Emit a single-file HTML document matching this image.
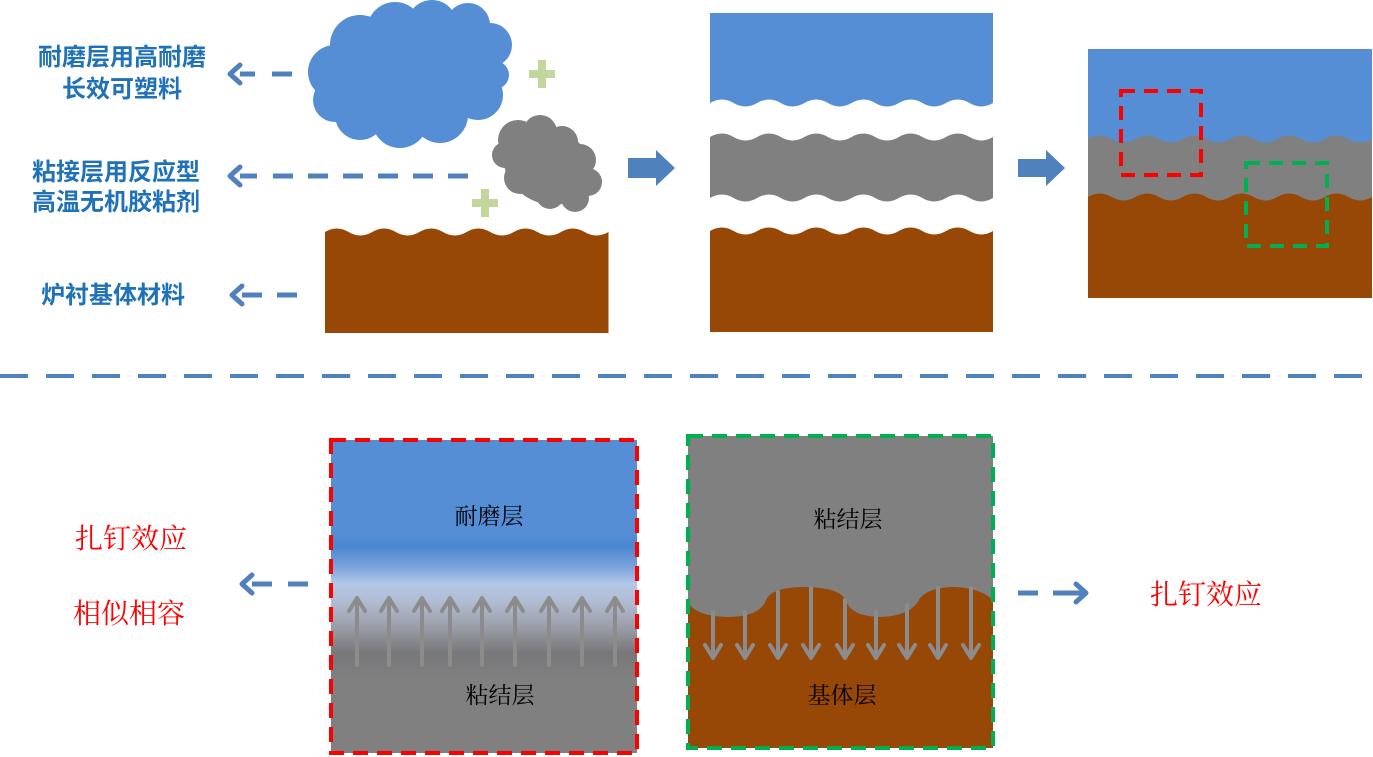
<!DOCTYPE html>
<html><head><meta charset="utf-8"><style>
html,body{margin:0;padding:0;background:#fff}
svg{display:block}
.lb{font-family:"Liberation Sans","Noto Sans CJK SC",sans-serif;font-weight:bold;font-size:24px;fill:#2072B8}
.rd{font-family:"Liberation Serif","Noto Serif CJK SC",serif;font-size:28px;fill:#FF0000}
.bk{font-family:"Liberation Serif","Noto Serif CJK SC",serif;font-size:23px;fill:#000}
</style></head><body>
<svg width="1373" height="757" viewBox="0 0 1373 757" xmlns="http://www.w3.org/2000/svg">
<defs>
<linearGradient id="g1" x1="0" y1="0" x2="0" y2="1">
<stop offset="0" stop-color="#558ED5"/>
<stop offset="0.3" stop-color="#558ED5"/>
<stop offset="0.34" stop-color="#4A86D0"/>
<stop offset="0.41" stop-color="#7FA6DD"/>
<stop offset="0.46" stop-color="#B4C7E7"/>
<stop offset="0.52" stop-color="#B0BBD0"/>
<stop offset="0.6" stop-color="#9A9DA6"/>
<stop offset="0.68" stop-color="#77777A"/>
<stop offset="0.76" stop-color="#808080"/>
<stop offset="1" stop-color="#808080"/>
</linearGradient>
</defs>

<text class="lb" x="122" y="65" text-anchor="middle">耐磨层用高耐磨</text>
<text class="lb" x="122" y="97" text-anchor="middle">长效可塑料</text>
<text class="lb" x="116" y="180" text-anchor="middle">粘接层用反应型</text>
<text class="lb" x="116" y="210" text-anchor="middle">高温无机胶粘剂</text>
<text class="lb" x="113" y="303" text-anchor="middle">炉衬基体材料</text>

<g stroke="#4F81BD" stroke-width="5" fill="none">
<path d="M240 74 H255 M272 74 H292" />
<path d="M240 65 L230 74 L240 83" stroke-linecap="round" stroke-linejoin="round"/>
<path d="M240 176 H257 M273 176 H293 M308 176 H328 M343 176 H363 M378 176 H398 M413 176 H433 M448 176 H468"/>
<path d="M240 167 L230 176 L240 185" stroke-linecap="round" stroke-linejoin="round"/>
<path d="M242 295 H262 M277 295 H297"/>
<path d="M242 286 L232 295 L242 304" stroke-linecap="round" stroke-linejoin="round"/>
</g>

<g fill="#558ED5">
<ellipse cx="405" cy="75" rx="88" ry="48"/>
<circle cx="335" cy="72" r="27"/>
<circle cx="360" cy="45" r="30"/>
<circle cx="395" cy="30" r="28"/>
<circle cx="432" cy="25" r="25"/>
<circle cx="468" cy="25" r="22"/>
<circle cx="490" cy="45" r="22"/>
<circle cx="495" cy="75" r="14"/>
<circle cx="478" cy="95" r="25"/>
<circle cx="440" cy="115" r="28"/>
<circle cx="400" cy="120" r="28"/>
<circle cx="360" cy="115" r="25"/>
<circle cx="335" cy="100" r="22"/>
</g>
<g fill="#808080">
<ellipse cx="547" cy="165" rx="45" ry="38" transform="rotate(30 547 165)"/>
<circle cx="518" cy="140" r="20"/>
<circle cx="540" cy="132" r="17"/>
<circle cx="562" cy="142" r="16"/>
<circle cx="580" cy="160" r="16"/>
<circle cx="588" cy="182" r="14"/>
<circle cx="575" cy="198" r="14"/>
<circle cx="550" cy="195" r="14"/>
<circle cx="520" cy="178" r="16"/>
<circle cx="505" cy="155" r="13"/>
</g>
<g fill="#C3D69B">
<rect x="529" y="70" width="26" height="8"/><rect x="538" y="60" width="8" height="28"/>
<rect x="472" y="199" width="26" height="8"/><rect x="481" y="189" width="8" height="28"/>
</g>

<path fill="#974806" d="M325 333 V232 Q336.8 225 348.6 232 T372.2 232 T395.8 232 T419.4 232 T443 232 T466.6 232 T490.2 232 T513.8 232 T537.4 232 T561 232 T584.6 232 T608.5 232 V333 Z"/>

<path fill="#4F81BD" d="M628 158 H656 V150 L675 168 L656 186 V178 H628 Z"/>

<path fill="#558ED5" d="M710 13 H993 V103 Q981.2 110 969.6 103 T946 103 T922.4 103 T898.8 103 T875.2 103 T851.6 103 T828 103 T804.4 103 T780.8 103 T757.2 103 T733.6 103 T710 103 Z"/>
<path fill="#808080" d="M710 137 Q721.8 130 733.6 137 T757.2 137 T780.8 137 T804.4 137 T828 137 T851.6 137 T875.2 137 T898.8 137 T922.4 137 T946 137 T969.6 137 T993 137 V198 Q981.2 205 969.6 198 T946 198 T922.4 198 T898.8 198 T875.2 198 T851.6 198 T828 198 T804.4 198 T780.8 198 T757.2 198 T733.6 198 T710 198 Z"/>
<path fill="#974806" d="M710 332 V231 Q721.8 224 733.6 231 T757.2 231 T780.8 231 T804.4 231 T828 231 T851.6 231 T875.2 231 T898.8 231 T922.4 231 T946 231 T969.6 231 T993 231 V332 Z"/>

<path fill="#4F81BD" d="M1018 159 H1046 V150 L1065 168 L1046 186 V177 H1018 Z"/>

<rect x="1088" y="49" width="284" height="249" fill="#974806"/>
<path fill="#808080" d="M1088 49 H1372 V197 Q1360.2 204 1348.3 197 T1324.7 197 T1301 197 T1277.3 197 T1253.7 197 T1230 197 T1206.3 197 T1182.7 197 T1159 197 T1135.3 197 T1111.7 197 T1088 197 Z"/>
<path fill="#558ED5" d="M1088 49 H1372 V139 Q1360.2 146 1348.3 139 T1324.7 139 T1301 139 T1277.3 139 T1253.7 139 T1230 139 T1206.3 139 T1182.7 139 T1159 139 T1135.3 139 T1111.7 139 T1088 139 Z"/>
<rect x="1121" y="91" width="80" height="84" fill="none" stroke="#FF0000" stroke-width="4" stroke-dasharray="14 9"/>
<rect x="1246" y="163" width="81" height="83" fill="none" stroke="#00B050" stroke-width="4" stroke-dasharray="14 9"/>

<line x1="0" y1="376" x2="1373" y2="376" stroke="#4F81BD" stroke-width="4" stroke-dasharray="28 18"/>

<text class="rd" x="75" y="548">扎钉效应</text>
<text class="rd" x="73" y="623">相似相容</text>
<g stroke="#4F81BD" stroke-width="5" fill="none">
<path d="M252 584 H272 M288 584 H308"/>
<path d="M252 575 L242 584 L252 593" stroke-linecap="round" stroke-linejoin="round"/>
</g>

<rect x="331" y="440" width="306" height="313" fill="url(#g1)"/>
<g stroke="#8C8C8C" stroke-width="4" fill="none" stroke-linecap="round" stroke-linejoin="round">
<path d="M357 665 V600 M349 611 L357 598 L365 611"/>
<path d="M389 665 V600 M381 611 L389 598 L397 611"/>
<path d="M422 665 V600 M414 611 L422 598 L430 611"/>
<path d="M450 665 V600 M442 611 L450 598 L458 611"/>
<path d="M482 665 V600 M474 611 L482 598 L490 611"/>
<path d="M515 665 V600 M507 611 L515 598 L523 611"/>
<path d="M549 665 V600 M541 611 L549 598 L557 611"/>
<path d="M582 665 V600 M574 611 L582 598 L590 611"/>
<path d="M615 665 V600 M607 611 L615 598 L623 611"/>
</g>
<rect x="331" y="440" width="306" height="313" fill="none" stroke="#FF0000" stroke-width="4" stroke-dasharray="15 9"/>
<text class="bk" x="489" y="524" text-anchor="middle">耐磨层</text>
<text class="bk" x="500" y="703" text-anchor="middle">粘结层</text>

<rect x="688" y="436" width="305" height="312" fill="#974806"/>
<path fill="#808080" d="M688 436 H993 V600 Q980 588 955 587 Q930 587 920 598 Q912 616 880 617 Q850 616 846 600 Q838 587 805 587 Q772 587 766 600 Q760 617 727 617 Q695 616 688 602 Z"/>
<g stroke="#8C8C8C" stroke-width="4" fill="none" stroke-linecap="round" stroke-linejoin="round">
<path d="M713 612 V657 M705 645 L713 658 L721 645"/>
<path d="M745 612 V657 M737 645 L745 658 L753 645"/>
<path d="M778 592 V657 M770 645 L778 658 L786 645"/>
<path d="M811 588 V657 M803 645 L811 658 L819 645"/>
<path d="M845 600 V657 M837 645 L845 658 L853 645"/>
<path d="M876 612 V657 M868 645 L876 658 L884 645"/>
<path d="M907 605 V657 M899 645 L907 658 L915 645"/>
<path d="M938 588 V657 M930 645 L938 658 L946 645"/>
<path d="M971 588 V657 M963 645 L971 658 L979 645"/>
</g>
<rect x="688" y="436" width="305" height="312" fill="none" stroke="#00B050" stroke-width="4" stroke-dasharray="15 9"/>
<text class="bk" x="848" y="527" text-anchor="middle">粘结层</text>
<text class="bk" x="842" y="703" text-anchor="middle">基体层</text>

<g stroke="#4F81BD" stroke-width="5" fill="none">
<path d="M1018 593 H1038 M1053 593 H1083"/>
<path d="M1076 584 L1086 593 L1076 602" stroke-linecap="round" stroke-linejoin="round"/>
</g>
<text class="rd" x="1150" y="604">扎钉效应</text>
</svg>
</body></html>
